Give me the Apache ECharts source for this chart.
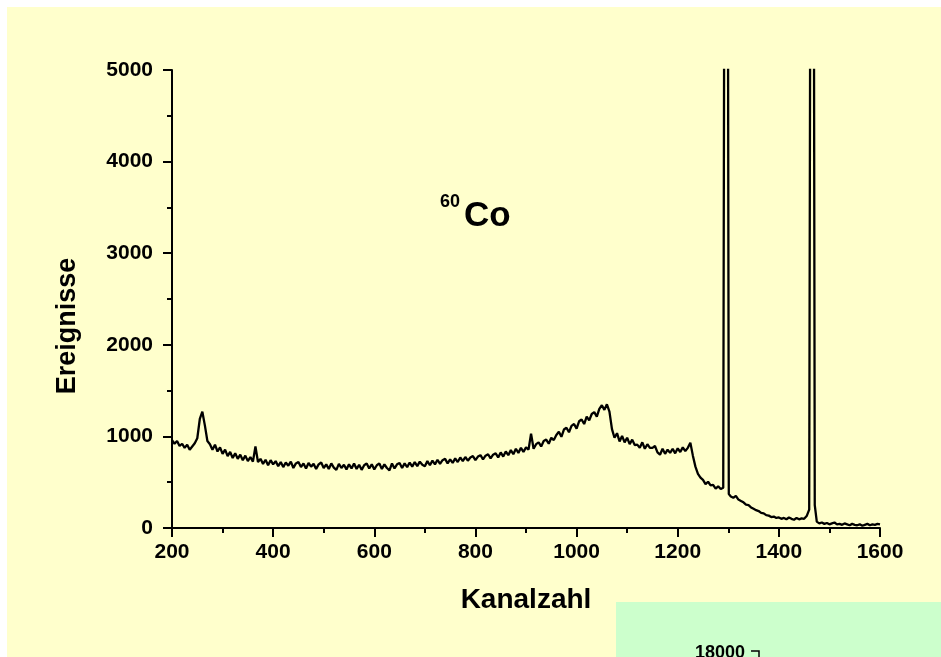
<!DOCTYPE html>
<html>
<head>
<meta charset="utf-8">
<script src="https://cdn.jsdelivr.net/npm/echarts@6/dist/echarts.min.js"></script>
<style>
  html, body { margin: 0; padding: 0; background: #ffffff; }
  #bg { position: absolute; left: 7px; top: 7px; width: 934px; height: 650px; background: #FFFFCC; }
  #inset { position: absolute; left: 616px; top: 602px; width: 325px; height: 55px; background: #CCFFCC; }
  #area { position: absolute; left: 0; top: 0; width: 941px; height: 657px; }
</style>
</head>
<body>
<div id="bg"></div>
<div id="inset"></div>
<div id="area"></div>
<script>
// Untergrund Kanal 200 ... 1290, Schrittweite 5
let continuumAStart = 200
let continuumA = [
  960, 920, 950, 895, 920, 875, 910, 855, 890, 925,
  980, 1190, 1270, 1120, 950, 915, 855, 910, 835, 880,
  810, 855, 785, 830, 765, 815, 755, 800, 740, 790,
  730, 775, 725, 890, 720, 755, 700, 745, 685, 740,
  695, 730, 675, 720, 665, 715, 680, 725, 655, 705,
  720, 665, 705, 650, 710, 670, 700, 645, 695, 715,
  655, 695, 645, 705, 660, 635, 700, 655, 690, 640,
  695, 650, 705, 645, 690, 635, 685, 705, 650, 695,
  640, 685, 705, 645, 695, 655, 630, 705, 650, 695,
  710, 655, 705, 665, 715, 670, 720, 675, 725, 690,
  675, 730, 685, 735, 695, 745, 700, 740, 755, 705,
  750, 710, 760, 720, 770, 730, 775, 735, 770, 785,
  740, 780, 795, 750, 790, 805, 760, 800, 815, 770,
  825, 780, 835, 795, 850, 805, 865, 820, 875, 830,
  880, 855, 1030, 865, 915, 935, 890, 950, 965, 920,
  985, 960, 1015, 1050, 995, 1075, 1095, 1045, 1115, 1135,
  1085, 1165, 1185, 1135, 1215, 1175, 1245, 1265, 1215, 1300,
  1340, 1290, 1350, 1270, 1080, 985, 1035, 945, 1005, 935,
  985, 915, 965, 905, 910, 875, 935, 865, 915, 875,
  875, 895, 825, 800, 865, 810, 855, 820, 865, 815,
  870, 830, 880, 840, 875, 930, 790, 670, 590, 550,
  525, 480, 505, 465, 470, 430, 455, 425,
  440
]
// erste Photolinie (1173 keV)
let peak1Channels = [1296, 1301]
let peak1Counts = [17000, 370]
// Untergrund Kanal 1305 ... 1460
let continuumBStart = 1305
let continuumB = [
  345, 330, 350, 310, 295, 280, 255, 250, 225, 210,
  195, 185, 165, 160, 140, 135, 120, 125, 110, 115,
  100, 110, 95, 115, 100, 90, 110, 95, 105, 100,
  130, 200
]
// zweite Photolinie (1332 keV)
let peak2Channels = [1466, 1471]
let peak2Counts = [17000, 250]
// Untergrund Kanal 1475 ... 1600
let continuumCStart = 1475
let continuumC = [
  70, 50, 60, 45, 55, 40, 50, 60, 40, 45,
  35, 50, 40, 30, 45, 35, 30, 40, 25, 35,
  45, 30, 40, 35, 45, 40
]
let channelStep = 5
let xTicks = [200, 1600, 200]   // min, max, interval
let yTicks = [0, 5000, 1000]

function binned(start, values) {
  return values.map((c, i) => [start + i * channelStep, c])
}
function paired(chs, values) {
  return chs.map((ch, i) => [ch, values[i]])
}
let spectrum = [].concat(
  binned(continuumAStart, continuumA),
  paired(peak1Channels, peak1Counts),
  binned(continuumBStart, continuumB),
  paired(peak2Channels, peak2Counts),
  binned(continuumCStart, continuumC)
)

let fontName = '"Liberation Sans", Arial, sans-serif'
let labelFont = {
  color: '#000',
  fontFamily: fontName,
  fontWeight: 'bold',
  fontSize: 21
}

let option = {
  animation: false,
  grid: {
    left: 172,
    right: 61,
    top: 70,
    bottom: 129
  },
  xAxis: {
    type: 'value',
    min: xTicks[0],
    max: xTicks[1],
    interval: xTicks[2],
    name: 'Kanalzahl',
    nameLocation: 'middle',
    nameGap: 58,
    nameTextStyle: Object.assign({}, labelFont, { fontSize: 28 }),
    axisLine: { lineStyle: { color: '#000', width: 2 } },
    axisTick: { length: 9, lineStyle: { color: '#000', width: 2 } },
    minorTick: { show: true, splitNumber: 2, length: 5, lineStyle: { color: '#000', width: 2 } },
    axisLabel: Object.assign({ margin: 14, formatter: v => String(v) }, labelFont),
    splitLine: { show: false }
  },
  yAxis: {
    type: 'value',
    min: yTicks[0],
    max: yTicks[1],
    interval: yTicks[2],
    axisLine: { show: true, lineStyle: { color: '#000', width: 2 } },
    axisTick: { show: true, length: 9, lineStyle: { color: '#000', width: 2 } },
    minorTick: { show: true, splitNumber: 2, length: 5, lineStyle: { color: '#000', width: 2 } },
    axisLabel: Object.assign({ margin: 19, formatter: v => String(v) }, labelFont),
    splitLine: { show: false }
  },
  graphic: [
    {
      type: 'text', x: 68, y: 326, rotation: Math.PI / 2,
      style: {
        text: 'Ereignisse', fill: '#000', font: 'bold 27px ' + fontName,
        textAlign: 'center', textVerticalAlign: 'middle'
      }
    },
    {
      type: 'text', left: 440, top: 193,
      style: { text: '60', fill: '#000', font: 'bold 18px ' + fontName }
    },
    {
      type: 'text', left: 464, top: 199,
      style: { text: 'Co', fill: '#000', font: 'bold 35px ' + fontName }
    },
    {
      type: 'text', left: 695, top: 644,
      style: { text: '18000', fill: '#000', font: 'bold 18px ' + fontName }
    },
    {
      type: 'polyline',
      shape: { points: [[751, 651], [759, 651], [759, 660]] },
      style: { stroke: '#000', lineWidth: 1.5, fill: null }
    }
  ],
  series: [
    {
      type: 'line',
      data: spectrum,
      symbol: 'none',
      clip: true,
      lineStyle: { color: '#000', width: 2.3 }
    }
  ]
}

let myChart = echarts.init(document.getElementById('area'))
myChart.setOption(option)
window.addEventListener('resize', function () {
  myChart.resize()
}, false)
</script>
</body>
</html>
